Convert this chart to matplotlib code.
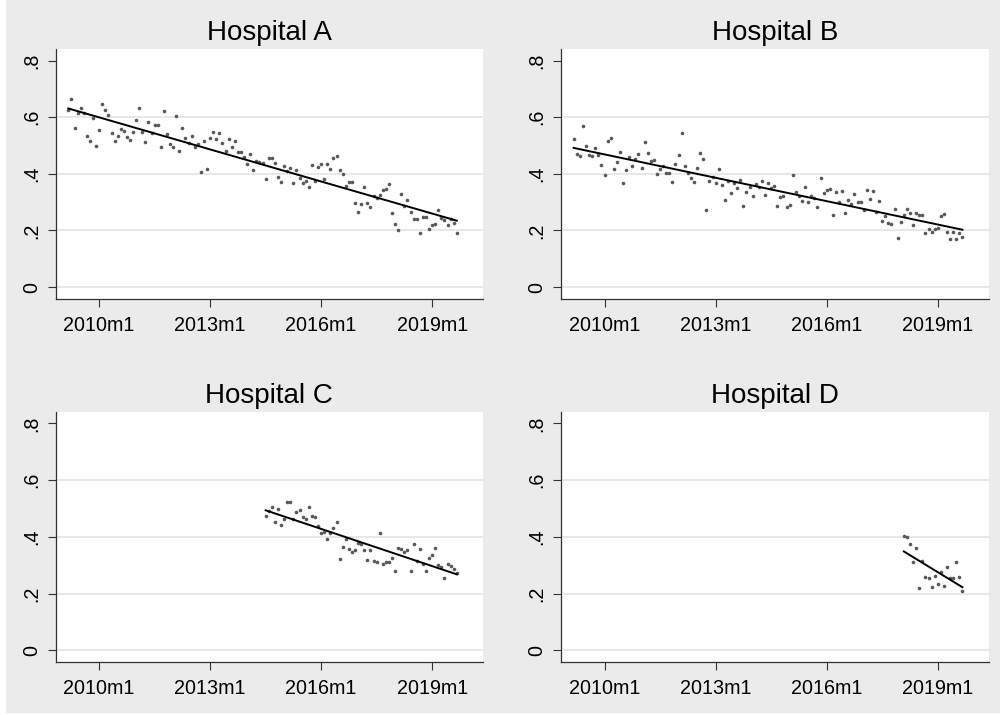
import numpy as np
import matplotlib.pyplot as plt
from matplotlib.patches import Rectangle

plt.rcParams['font.family'] = ['Liberation Sans', 'DejaVu Sans']

# x positions are months counted from 2010m1
x_ticks = [0, 36, 72, 108]
x_labels = ["2010m1", "2013m1", "2016m1", "2019m1"]
y_ticks = [0, 0.2, 0.4, 0.6, 0.8]
y_labels = ["0", ".2", ".4", ".6", ".8"]

titles = ["Hospital A", "Hospital B", "Hospital C", "Hospital D"]

start_a = -10
rate_a = [0.626, 0.665, 0.563, 0.615, 0.632, 0.616, 0.532, 0.516, 0.596, 0.499,
          0.556, 0.645, 0.626, 0.609, 0.546, 0.516, 0.535, 0.558, 0.553, 0.529,
          0.518, 0.549, 0.589, 0.631, 0.549, 0.514, 0.582, 0.543, 0.571, 0.571,
          0.496, 0.621, 0.541, 0.505, 0.495, 0.604, 0.482, 0.563, 0.525, 0.508,
          0.534, 0.496, 0.506, 0.406, 0.516, 0.417, 0.528, 0.549, 0.523, 0.546,
          0.508, 0.480, 0.522, 0.496, 0.515, 0.476, 0.476, 0.461, 0.435, 0.470,
          0.412, 0.447, 0.442, 0.440,
          0.383, 0.457, 0.456, 0.439, 0.390, 0.371, 0.428, 0.410, 0.420, 0.369,
          0.412, 0.387, 0.368, 0.375, 0.355, 0.430, 0.376, 0.425, 0.435, 0.382,
          0.435, 0.416, 0.455, 0.463, 0.415, 0.401, 0.356, 0.370, 0.370, 0.296,
          0.265, 0.295, 0.354, 0.297, 0.282, 0.321, 0.313, 0.324, 0.342, 0.347,
          0.364, 0.263, 0.223, 0.203, 0.329, 0.286, 0.307, 0.264, 0.240, 0.240,
          0.190, 0.249, 0.249, 0.205, 0.220, 0.222, 0.273, 0.245, 0.237, 0.220,
          0.240, 0.225, 0.191]

start_b = -10
rate_b = [0.524, 0.469, 0.462, 0.570, 0.499, 0.466, 0.462, 0.492, 0.468, 0.431,
          0.395, 0.515, 0.525, 0.416, 0.442, 0.478, 0.369, 0.415, 0.460, 0.429,
          0.453, 0.469, 0.422, 0.511, 0.475, 0.444, 0.448, 0.399, 0.416, 0.429,
          0.404, 0.402, 0.372, 0.434, 0.468, 0.543, 0.426, 0.402, 0.386, 0.372,
          0.422, 0.472, 0.451, 0.272, 0.375, 0.389, 0.366, 0.416, 0.360, 0.308,
          0.375, 0.334, 0.369, 0.351, 0.379, 0.288, 0.336, 0.352, 0.323, 0.365,
          0.352, 0.376,
          0.326, 0.368, 0.349, 0.356, 0.287, 0.318, 0.323, 0.282, 0.290, 0.395,
          0.335, 0.321, 0.303, 0.354, 0.302, 0.322, 0.314, 0.283, 0.386, 0.331,
          0.343, 0.348, 0.254, 0.335, 0.300, 0.338, 0.262, 0.307, 0.295, 0.329,
          0.299, 0.299, 0.273, 0.343, 0.312, 0.341, 0.265, 0.303, 0.235, 0.250,
          0.226, 0.222, 0.276, 0.173, 0.230, 0.253, 0.276, 0.263, 0.219, 0.261,
          0.253, 0.254, 0.192, 0.206, 0.196, 0.207, 0.210, 0.252, 0.257, 0.194,
          0.169, 0.196, 0.169, 0.190, 0.177]

start_c = 54
rate_c = [0.472, 0.490, 0.506, 0.452, 0.499, 0.441, 0.463,
          0.524, 0.523, 0.463, 0.486, 0.493, 0.469, 0.463, 0.506, 0.473, 0.469,
          0.437, 0.412, 0.418, 0.392, 0.412, 0.432, 0.454, 0.322, 0.365, 0.391,
          0.357, 0.346, 0.354, 0.380, 0.374, 0.354, 0.320, 0.354, 0.316, 0.310,
          0.413, 0.303, 0.311, 0.310, 0.326, 0.281, 0.361, 0.357, 0.346, 0.352,
          0.278, 0.374, 0.316, 0.357, 0.303, 0.278, 0.324, 0.336, 0.361, 0.302,
          0.294, 0.256, 0.304, 0.296, 0.285, 0.272]

start_d = 97
rate_d = [0.404, 0.401, 0.375, 0.312, 0.362, 0.220, 0.315, 0.258, 0.254, 0.223,
          0.263, 0.233, 0.277, 0.228, 0.295, 0.256, 0.255, 0.312, 0.258, 0.210]

starts = [start_a, start_b, start_c, start_d]
rates = [rate_a, rate_b, rate_c, rate_d]

fig = plt.figure(figsize=(10, 7.15), dpi=100, facecolor="white")
# grey graph region
fig.patches.append(Rectangle((0.006, 0.003), 0.994, 0.997, transform=fig.transFigure,
                             facecolor="#ebebeb", edgecolor="none", zorder=-10))

positions = [[0.0557, 0.5818, 0.4273, 0.3497],
             [0.5610, 0.5818, 0.4277, 0.3497],
             [0.0557, 0.0737, 0.4273, 0.3505],
             [0.5610, 0.0737, 0.4277, 0.3505]]

for pos, title, start, vals in zip(positions, titles, starts, rates):
    ax = fig.add_axes(pos)
    ax.set_facecolor("white")
    x = np.arange(start, start + len(vals))
    y = np.array(vals)

    for g in y_ticks[:-1]:
        ax.axhline(g, color="#e4e4e4", lw=1.2, zorder=0)

    ax.plot(x, y, "o", ms=2.6, color="#595959", mec="none", zorder=2)
    fit = np.polyfit(x, y, 1)
    ends = np.array([x[0], x[-1]])
    ax.plot(ends, np.polyval(fit, ends), color="black", lw=1.4, zorder=3)

    ax.set_xlim(-14.1, 124.5)
    ax.set_ylim(-0.042, 0.841)
    ax.set_xticks(x_ticks)
    ax.set_xticklabels(x_labels)
    ax.set_yticks(y_ticks)
    ax.set_yticklabels(y_labels, rotation=90, va="center")
    ax.tick_params(axis="both", direction="out", length=5.5, width=0.8,
                   labelsize=14.2, color="#333333")
    ax.tick_params(axis="x", pad=6.8)
    ax.tick_params(axis="y", pad=4.8)
    for side in ["top", "right"]:
        ax.spines[side].set_visible(False)
    for side in ["left", "bottom"]:
        ax.spines[side].set_linewidth(0.9)
        ax.spines[side].set_color("#333333")
    ax.set_title(title, fontsize=20, pad=6.5)

fig.savefig("out.png", dpi=100, facecolor=fig.get_facecolor())
